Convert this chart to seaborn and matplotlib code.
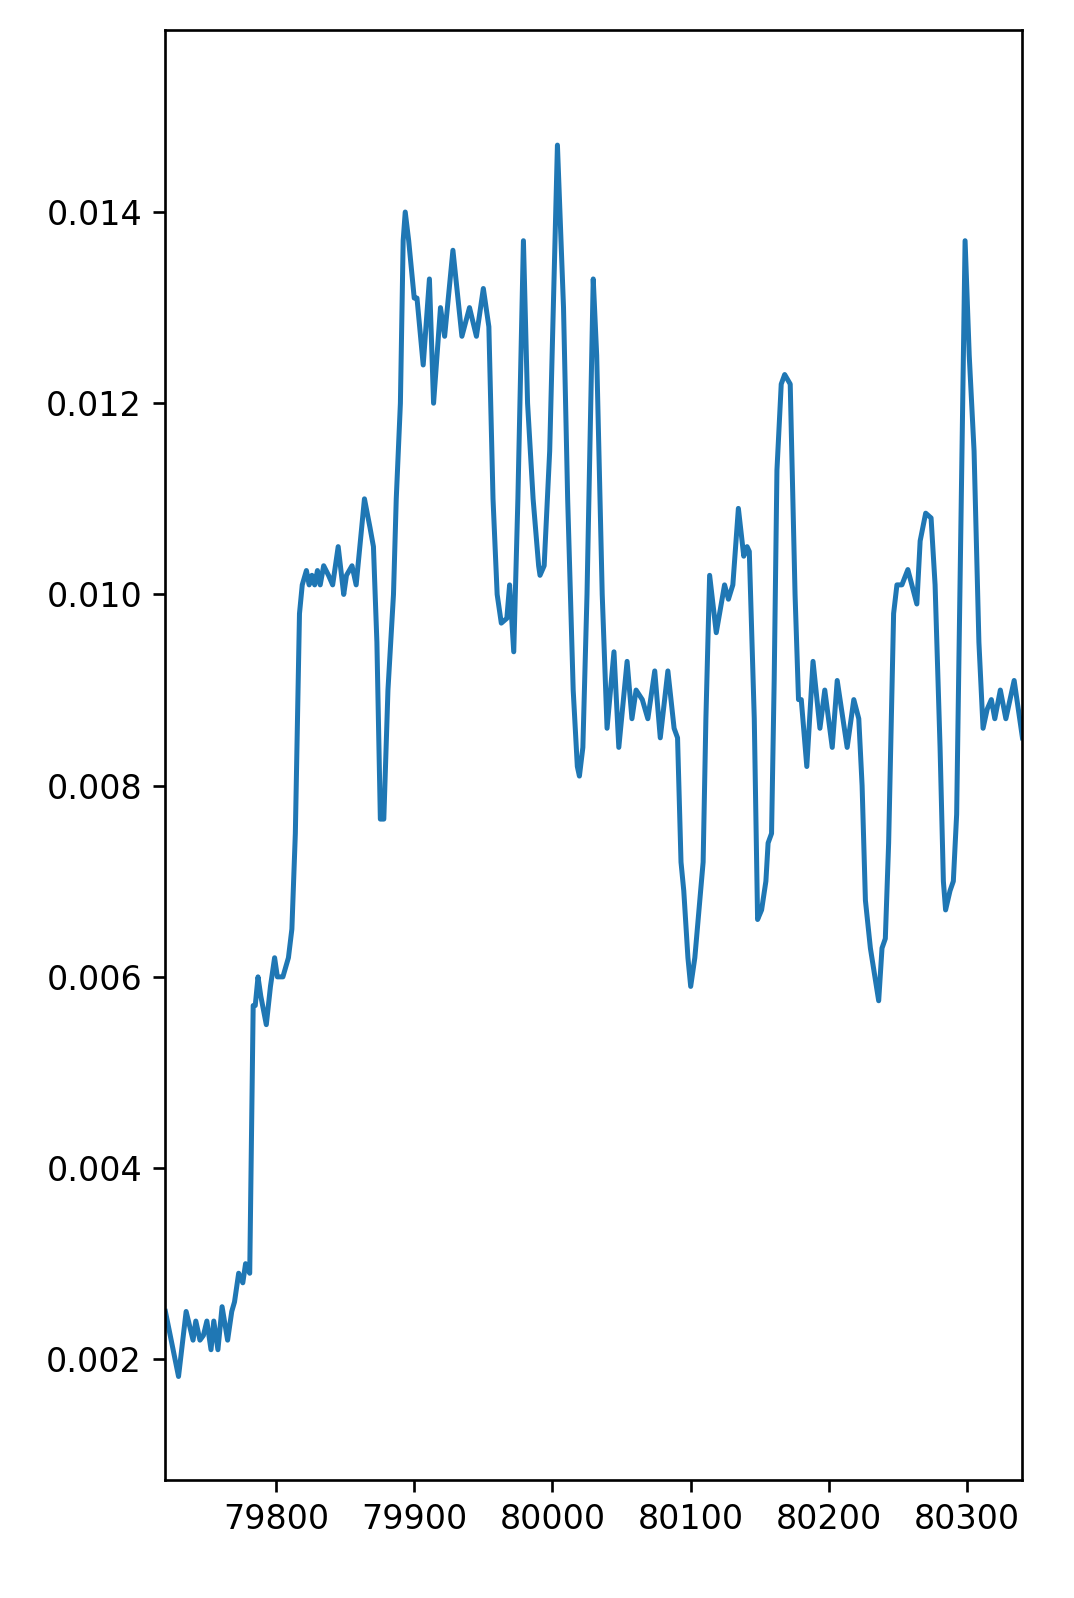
import matplotlib
matplotlib.use("Agg")
import matplotlib.pyplot as plt
import seaborn as sns

# position along the sequence
pos = [79720, 79729.5, 79735, 79740, 79742, 79745, 79747.5, 79750, 79753, 79755,
       79758, 79761, 79765, 79768, 79770, 79773, 79776, 79778, 79781, 79783.5,
       79785, 79787, 79789, 79793, 79796, 79799, 79801, 79805, 79809, 79811.5,
       79814, 79816, 79817, 79819, 79822, 79824, 79826, 79828, 79830, 79832,
       79834.5, 79838, 79841, 79845, 79849, 79851, 79855, 79858, 79860, 79864,
       79868, 79870.5, 79873, 79875.5, 79878, 79881, 79885, 79887, 79890, 79892,
       79893.5, 79896, 79900, 79902, 79906.5, 79911, 79914, 79919, 79922, 79928,
       79934.5, 79940, 79945, 79950, 79954, 79957, 79960, 79963, 79967, 79969,
       79972, 79975, 79979, 79982, 79986, 79990, 79991, 79994, 79998, 80003.6,
       80008, 80011, 80015, 80018, 80019.5, 80022, 80025, 80029.5, 80032, 80036,
       80039.5, 80044.5, 80048, 80054, 80057.5, 80060.5, 80065, 80069, 80074, 80078,
       80083.5, 80088, 80090.5, 80093, 80095, 80098, 80100, 80103, 80106, 80109,
       80111, 80113.7, 80118.5, 80124.5, 80127.3, 80130.5, 80134.5, 80138.4, 80140.8, 80142.4,
       80146, 80148.4, 80151.3, 80154.4, 80156, 80158.5, 80160.4, 80162.4, 80165.5, 80168,
       80172, 80175.5, 80178, 80180, 80184, 80188.5, 80193.5, 80197, 80202.4, 80206,
       80213.2, 80218, 80221.6, 80224, 80226.4, 80230, 80236, 80238.4, 80240.8, 80243.2,
       80246.8, 80249.2, 80252.8, 80257.1, 80260, 80263.6, 80266, 80270, 80273.9, 80276.8,
       80280.4, 80282.8, 80284.4, 80287.6, 80290, 80292.4, 80296, 80298.5, 80301.5, 80305,
       80308.5, 80311.5, 80314.5, 80317.5, 80320, 80324, 80328, 80334, 80340]

# measured value
value = [0.00250, 0.00182, 0.00250, 0.00220, 0.00240, 0.00220, 0.00225, 0.00240, 0.00210, 0.00240,
         0.00210, 0.00255, 0.00220, 0.00250, 0.00260, 0.00290, 0.00280, 0.00300, 0.00290, 0.00570,
         0.00570, 0.00600, 0.00580, 0.00550, 0.00590, 0.00620, 0.00600, 0.00600, 0.00620, 0.00650,
         0.00750, 0.00900, 0.00980, 0.01010, 0.01025, 0.01010, 0.01020, 0.01010, 0.01025, 0.01010,
         0.01030, 0.01020, 0.01010, 0.01050, 0.01000, 0.01020, 0.01030, 0.01010, 0.01040, 0.01100,
         0.01070, 0.01050, 0.00950, 0.00765, 0.00765, 0.00900, 0.01000, 0.01100, 0.01200, 0.01370,
         0.01400, 0.01370, 0.01310, 0.01310, 0.01240, 0.01330, 0.01200, 0.01300, 0.01270, 0.01360,
         0.01270, 0.01300, 0.01270, 0.01320, 0.01280, 0.01100, 0.01000, 0.00970, 0.00975, 0.01010,
         0.00940, 0.01100, 0.01370, 0.01200, 0.01100, 0.01030, 0.01020, 0.01030, 0.01150, 0.01470,
         0.01300, 0.01100, 0.00900, 0.00820, 0.00810, 0.00840, 0.01000, 0.01330, 0.01250, 0.01000,
         0.00860, 0.00940, 0.00840, 0.00930, 0.00870, 0.00900, 0.00890, 0.00870, 0.00920, 0.00850,
         0.00920, 0.00860, 0.00850, 0.00720, 0.00690, 0.00620, 0.00590, 0.00620, 0.00670, 0.00720,
         0.00870, 0.01020, 0.00960, 0.01010, 0.00995, 0.01010, 0.01090, 0.01040, 0.01050, 0.01045,
         0.00870, 0.00660, 0.00670, 0.00700, 0.00740, 0.00750, 0.00910, 0.01130, 0.01220, 0.01230,
         0.01220, 0.01000, 0.00890, 0.00890, 0.00820, 0.00930, 0.00860, 0.00900, 0.00840, 0.00910,
         0.00840, 0.00890, 0.00870, 0.00800, 0.00680, 0.00630, 0.00575, 0.00630, 0.00640, 0.00740,
         0.00980, 0.01010, 0.01010, 0.01026, 0.01010, 0.00990, 0.01056, 0.01085, 0.01080, 0.01010,
         0.00840, 0.00700, 0.00670, 0.00690, 0.00700, 0.00770, 0.01120, 0.01370, 0.01250, 0.01150,
         0.00950, 0.00860, 0.00880, 0.00890, 0.00870, 0.00900, 0.00870, 0.00910, 0.00850]

fig, ax = plt.subplots(figsize=(1074 / 240, 1598 / 240), dpi=240)
fig.subplots_adjust(left=0.154, right=0.952, top=0.981, bottom=0.074)

sns.lineplot(x=pos, y=value, color="#1f77b4", linewidth=1.5, ax=ax)

ax.set_xlim(pos[0], pos[-1])
ax.set_ylim(0.00074, 0.0159)
ax.set_xticks([79800, 79900, 80000, 80100, 80200, 80300])
ax.set_yticks([0.002, 0.004, 0.006, 0.008, 0.010, 0.012, 0.014])
ax.set_yticklabels(["0.002", "0.004", "0.006", "0.008", "0.010", "0.012", "0.014"])

fig.savefig("out.png", dpi=240)
